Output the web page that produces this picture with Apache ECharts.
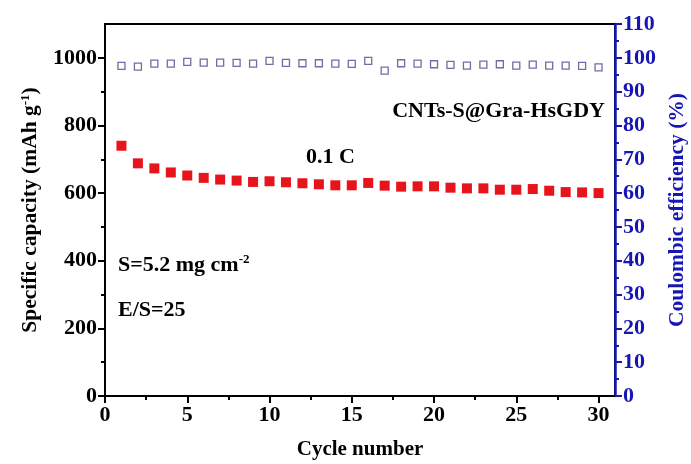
<!DOCTYPE html>
<html>
<head>
<meta charset="utf-8">
<script src="https://cdn.jsdelivr.net/npm/echarts@6/dist/echarts.min.js"></script>
<style>
  html, body { margin: 0; padding: 0; background: #fff; }
  #chart { width: 691px; height: 464px; }
</style>
</head>
<body>
<div id="chart"></div>
<script>
// cycle index (x)
const cycles = [1, 2, 3, 4, 5, 6, 7, 8, 9, 10, 11, 12, 13, 14, 15,
  16, 17, 18, 19, 20, 21, 22, 23, 24, 25, 26, 27, 28, 29, 30];
// specific capacity, mAh g-1 (left axis)
const capacity = [740, 688, 673, 661, 652, 645, 640, 637, 633, 635, 632, 629, 626, 623, 623,
  630, 622, 619, 620, 620, 616, 614, 614, 610, 610, 612, 607, 603, 602, 600];
// coulombic efficiency, % (right axis)
const efficiency = [97.6, 97.4, 98.3, 98.3, 98.8, 98.6, 98.6, 98.5, 98.3, 99.1, 98.5, 98.4, 98.4, 98.3, 98.2,
  99.1, 96.2, 98.4, 98.3, 98.1, 97.9, 97.7, 98.0, 98.1, 97.7, 98.0, 97.7, 97.7, 97.6, 97.2];

const cycleTicks = [0, 5, 10, 15, 20, 25, 30];
const cycleMinor = [2.5, 7.5, 12.5, 17.5, 22.5, 27.5];
const capTicks = [0, 200, 400, 600, 800, 1000];
const capMinor = [100, 300, 500, 700, 900];

const FONT = 'Liberation Serif';
const BLUE = '#1616b4';

var myChart = echarts.init(document.getElementById('chart'), null, { renderer: 'canvas' });

var option = {
  animation: false,
  backgroundColor: '#fff',
  grid: {
    left: 105, right: 76, top: 24, bottom: 68,
    outerBoundsMode: 'none',
    show: true, borderColor: '#000', borderWidth: 2, backgroundColor: 'transparent'
  },
  xAxis: [
    {
      type: 'value', min: 0, max: 31, interval: 5,
      name: 'Cycle number', nameLocation: 'middle', nameGap: 43,
      nameTextStyle: { fontFamily: FONT, fontWeight: 'bold', fontSize: 21, color: '#000' },
      axisLine: { lineStyle: { color: '#000', width: 2 } },
      axisTick: { length: 7, lineStyle: { width: 2, color: '#000' }, customValues: cycleTicks },
      axisLabel: { customValues: cycleTicks, margin: 8, fontFamily: FONT, fontWeight: 'bold', fontSize: 22, color: '#000' },
      splitLine: { show: false }
    },
    {
      type: 'value', min: 0, max: 31, position: 'bottom',
      axisLine: { show: false },
      axisTick: { length: 4, lineStyle: { width: 2, color: '#000' }, customValues: cycleMinor },
      axisLabel: { show: false },
      splitLine: { show: false }
    }
  ],
  yAxis: [
    {
      type: 'value', min: 0, max: 1100, interval: 200, position: 'left',
      name: '{t|Specific capacity (mAh g}{s|-1}{t|)}', nameLocation: 'middle', nameGap: 63, nameRotate: 90,
      nameTextStyle: {
        rich: {
          t: { fontFamily: FONT, fontWeight: 'bold', fontSize: 21.5, color: '#000' },
          s: { fontFamily: FONT, fontWeight: 'bold', fontSize: 13, color: '#000', verticalAlign: 'top', padding: [0, 0, 10, 0] }
        }
      },
      axisLine: { show: true, lineStyle: { color: '#000', width: 2 } },
      axisTick: { show: true, length: 7, lineStyle: { width: 2, color: '#000' }, customValues: capTicks },
      axisLabel: {
        customValues: capTicks, margin: 8, formatter: v => String(v),
        fontFamily: FONT, fontWeight: 'bold', fontSize: 22, color: '#000'
      },
      splitLine: { show: false }
    },
    {
      type: 'value', min: 0, max: 1100, position: 'left',
      axisLine: { show: false },
      axisTick: { show: true, length: 4, lineStyle: { width: 2, color: '#000' }, customValues: capMinor },
      axisLabel: { show: false },
      splitLine: { show: false }
    },
    {
      type: 'value', min: 0, max: 110, interval: 10, position: 'right',
      name: 'Coulombic efficiency (%)', nameLocation: 'middle', nameGap: 42, nameRotate: 90,
      nameTextStyle: { fontFamily: FONT, fontWeight: 'bold', fontSize: 21.5, color: BLUE },
      axisLine: { show: true, lineStyle: { color: BLUE, width: 2.5 } },
      axisTick: { show: true, length: 7, lineStyle: { width: 2, color: BLUE } },
      minorTick: { show: true, splitNumber: 2, length: 4, lineStyle: { width: 2, color: BLUE } },
      axisLabel: { margin: 8, fontFamily: FONT, fontWeight: 'bold', fontSize: 22, color: BLUE },
      splitLine: { show: false },
      minorSplitLine: { show: false }
    }
  ],
  series: [
    {
      name: 'capacity', type: 'scatter', xAxisIndex: 0, yAxisIndex: 0,
      symbol: 'rect', symbolSize: 10,
      itemStyle: { color: '#e8141c', opacity: 1 },
      data: cycles.map((c, i) => [c, capacity[i]])
    },
    {
      name: 'efficiency', type: 'scatter', xAxisIndex: 0, yAxisIndex: 2,
      symbol: 'rect', symbolSize: 7,
      itemStyle: { color: '#fff', borderColor: '#6e6ea6', borderWidth: 1.3, opacity: 1 },
      data: cycles.map((c, i) => [c, efficiency[i]])
    }
  ],
  graphic: [
    {
      type: 'text', right: 86, top: 100,
      style: { text: 'CNTs-S@Gra-HsGDY', font: 'bold 22px "Liberation Serif"', fill: '#000' }
    },
    {
      type: 'text', left: 306, top: 146,
      style: { text: '0.1 C', font: 'bold 22px "Liberation Serif"', fill: '#000' }
    },
    {
      type: 'text', left: 118, top: 253,
      style: {
        text: '{t|S=5.2 mg cm}{s|-2}',
        rich: {
          t: { fontFamily: FONT, fontWeight: 'bold', fontSize: 22, fill: '#000' },
          s: { fontFamily: FONT, fontWeight: 'bold', fontSize: 13, fill: '#000', verticalAlign: 'top', padding: [0, 0, 12, 0] }
        }
      }
    },
    {
      type: 'text', left: 118, top: 299,
      style: { text: 'E/S=25', font: 'bold 22px "Liberation Serif"', fill: '#000' }
    }
  ]
};

if (option && typeof option === 'object') {
  myChart.setOption(option);
}
</script>
</body>
</html>
